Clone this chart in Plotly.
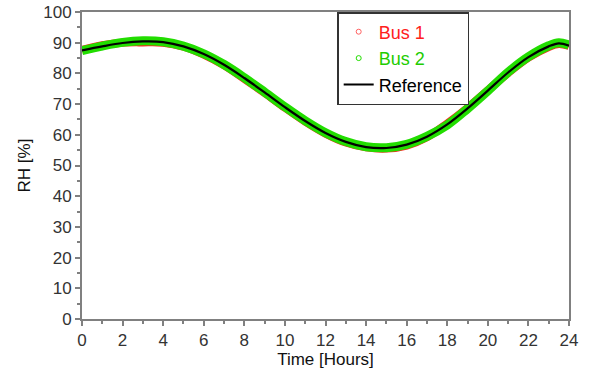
import plotly.graph_objects as go

hours = [0, 1, 2, 3, 4, 5, 6, 7, 8, 9, 10, 11, 12, 13, 14, 15, 16, 17, 18, 19, 20, 21, 22, 23, 23.5, 24]
reference = [87.5, 88.8, 89.9, 90.4, 90.2, 88.8, 86.3, 82.8, 78.5, 73.8, 69.0, 64.5, 60.6,
             57.7, 56.0, 55.7, 56.8, 59.4, 63.4, 68.6, 74.4, 80.3, 85.3, 88.8, 89.8, 89.0]
bus1 = [87.7, 89.2, 90.0, 90.1, 90.0, 88.7, 86.1, 82.6, 78.2, 73.6, 68.8, 64.3, 60.4,
        57.5, 55.9, 55.5, 56.5, 59.2, 63.7, 68.8, 74.5, 80.1, 85.1, 88.6, 89.6, 88.9]
bus2 = [87.4, 88.9, 90.1, 90.6, 90.3, 88.9, 86.4, 82.9, 78.6, 73.9, 69.1, 64.6, 60.7,
        57.8, 56.1, 55.8, 56.9, 59.5, 63.2, 68.5, 74.3, 80.4, 85.4, 89.0, 90.0, 89.2]

font_family = "Liberation Sans, Arial"

fig = go.Figure()
# bands of dense measured points
fig.add_trace(go.Scatter(x=hours, y=bus1, mode="lines", line=dict(color="#ff2020", width=8, shape="spline"),
                         showlegend=False, hoverinfo="skip"))
fig.add_trace(go.Scatter(x=hours, y=bus2, mode="lines", line=dict(color="#22dd00", width=9, shape="spline"),
                         showlegend=False, hoverinfo="skip"))
# legend entries
fig.add_trace(go.Scatter(x=[None], y=[None], mode="markers", name="<span style='color:#ff2020'>Bus 1</span>",
                         marker=dict(symbol="circle-open", color="#ff6060", size=5)))
fig.add_trace(go.Scatter(x=[None], y=[None], mode="markers", name="<span style='color:#22cc00'>Bus 2</span>",
                         marker=dict(symbol="circle-open", color="#22dd00", size=5)))
fig.add_trace(go.Scatter(x=hours, y=reference, mode="lines", name="Reference",
                         line=dict(color="black", width=2.2, shape="spline")))

axis_common = dict(showgrid=False, zeroline=False, showline=True, mirror=True,
                   linecolor="#808080", linewidth=2, ticks="outside", ticklen=5,
                   tickcolor="#808080", tickwidth=1.5, automargin=False,
                   tickfont=dict(family=font_family, size=17, color="#333333"),
                   minor=dict(ticks="outside", ticklen=3, tickcolor="#808080", tickwidth=1.5))

fig.update_xaxes(range=[0, 24], dtick=2, minor_dtick=1,
                 title=dict(text="Time [Hours]", standoff=2,
                            font=dict(family=font_family, size=17, color="#111111")),
                 **axis_common)
fig.update_yaxes(range=[0, 100], dtick=10, minor_dtick=5,
                 title=dict(text="RH [%]", standoff=8,
                            font=dict(family=font_family, size=17, color="#111111")),
                 **axis_common)

fig.update_layout(
    width=595, height=376,
    margin=dict(l=82, r=26, t=12, b=57),
    paper_bgcolor="white", plot_bgcolor="white",
    legend=dict(x=0.524, y=1.0, xanchor="left", yanchor="top",
                bordercolor="#333333", borderwidth=1.5, bgcolor="white",
                font=dict(family=font_family, size=18, color="black"),
                itemwidth=30, tracegroupgap=0),
)

fig.write_html("out.html")
